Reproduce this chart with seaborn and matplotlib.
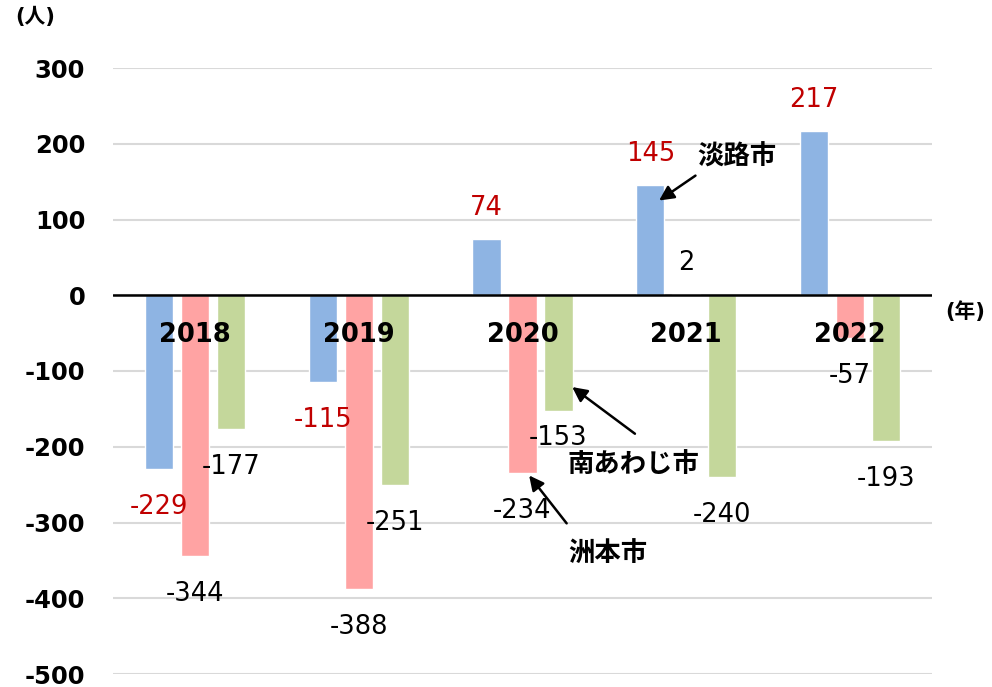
import numpy as np
import pandas as pd
import matplotlib
matplotlib.use("Agg")
import matplotlib.pyplot as plt
import seaborn as sns

years = ["2018", "2019", "2020", "2021", "2022"]
cities = ["淡路市", "洲本市", "南あわじ市"]
awaji = [-229, -115, 74, 145, 217]
sumoto = [-344, -388, -234, 2, -57]
minamiawaji = [-177, -251, -153, -240, -193]
yticks = [-500, -400, -300, -200, -100, 0, 100, 200, 300]

colors = ["#8EB4E3", "#FFA3A3", "#C4D79B"]
label_colors = ["#C00000", "#000000", "#000000"]

df = pd.DataFrame({
    "year": years * 3,
    "city": [cities[0]] * 5 + [cities[1]] * 5 + [cities[2]] * 5,
    "value": awaji + sumoto + minamiawaji,
})

sns.set_style("white")
plt.rcParams["font.family"] = ["DejaVu Sans", "Noto Sans CJK JP"]
plt.rcParams["text.color"] = "black"
plt.rcParams["ytick.color"] = "black"

fig = plt.figure(figsize=(9.92, 6.87), dpi=100)
ax = fig.add_axes([113 / 992, 1 - 674 / 687, 819 / 992, 606 / 687])

sns.barplot(data=df, x="year", y="value", hue="city", hue_order=cities,
            palette=colors, width=0.66, gap=0.22, legend=False, ax=ax,
            saturation=1, errorbar=None)

ax.set_ylim(-500, 300)
ax.set_xlim(-0.5, 4.5)
ax.set_yticks(yticks)
ax.set_yticklabels([str(t) for t in yticks], fontsize=17.5, fontweight="bold")
ax.tick_params(axis="y", length=0, pad=20, labelcolor="black")
ax.set_xticks([])
ax.set_xlabel("")
ax.set_ylabel("")
for s in ax.spines.values():
    s.set_visible(False)
ax.grid(axis="y", color="#D9D9D9", linewidth=1.5)
ax.set_axisbelow(True)
ax.axhline(0, color="black", linewidth=1.8, zorder=3)

# data labels (a bit further out below negative bars)
for cont, c in zip(ax.containers, label_colors):
    vals = [b.get_height() for b in cont]
    pos = [f"{v:.0f}" if v >= 0 else "" for v in vals]
    neg = [f"{v:.0f}" if v < 0 else "" for v in vals]
    ax.bar_label(cont, labels=pos, padding=13, fontsize=18.5, color=c, clip_on=False)
    txts = ax.bar_label(cont, labels=neg, padding=18, fontsize=18.5, color=c, clip_on=False)
    for t in txts:
        if t.get_text() == "-153":  # sits closer to its bar in the original
            t.xyann = (0, -10)

# year labels just under the zero line
for i, y in enumerate(years):
    ax.text(i, -52, y, ha="center", va="center", fontsize=18.5,
            fontweight="bold", color="black")

fig.text(965 / 992, 1 - 312 / 687, "(年)", ha="center", va="center",
         fontsize=15, fontweight="bold", color="black")
fig.text(35 / 992, 1 - 17 / 687, "(人)", ha="center", va="center",
         fontsize=15, fontweight="bold", color="black")

# city callouts
arrow = dict(arrowstyle="-|>", color="black", lw=1.8, mutation_scale=22)
ax.annotate("", xy=(2.82, 123), xytext=(3.07, 160), arrowprops=arrow)
ax.text(3.31, 181, "淡路市", ha="center", va="center", fontsize=19,
        fontweight="bold", color="black")
ax.annotate("", xy=(2.29, -119), xytext=(2.70, -185), arrowprops=arrow)
ax.text(2.68, -224, "南あわじ市", ha="center", va="center", fontsize=19,
        fontweight="bold", color="black")
ax.annotate("", xy=(2.03, -235), xytext=(2.28, -304), arrowprops=arrow)
ax.text(2.52, -341, "洲本市", ha="center", va="center", fontsize=19,
        fontweight="bold", color="black")

fig.savefig("out.png", dpi=100)
